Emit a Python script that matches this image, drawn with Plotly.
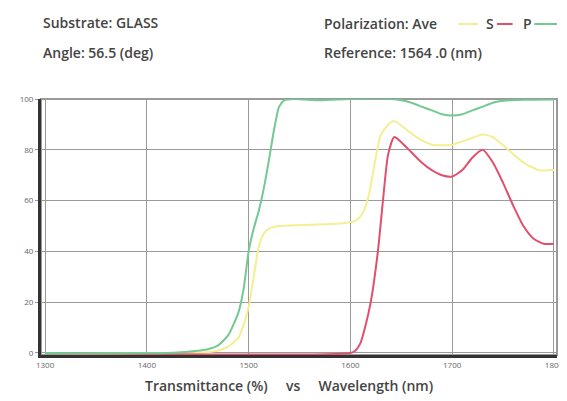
import plotly.graph_objects as go

# Transmittance curves (wavelength in nm, T in %)
wl_p = [1300, 1420, 1440, 1460, 1470, 1480, 1490, 1495, 1500, 1505, 1510, 1515, 1520,
        1525, 1530, 1535, 1545, 1570, 1600, 1640, 1650, 1660, 1670, 1680, 1690, 1700,
        1710, 1720, 1730, 1740, 1750, 1770, 1800]
t_p = [0, 0, 0.5, 1.5, 3, 7, 16, 25, 40, 49, 56, 65, 76,
       88, 97, 99.5, 100, 99.5, 100, 100, 99.5, 98.5, 97, 95.5, 94, 93.5,
       94, 95.5, 97, 98.5, 99.3, 99.7, 99.8]

wl_s = [1300, 1600, 1605, 1610, 1615, 1620, 1627, 1632, 1637, 1643, 1650, 1660, 1670,
        1680, 1690, 1700, 1710, 1720, 1730, 1740, 1750, 1760, 1770, 1780, 1790, 1800]
t_s = [0, 0, 1, 4, 11, 20, 40, 60, 78, 85, 83, 79, 75,
       72, 70, 69.5, 72, 77, 80, 75, 67, 58, 50, 45, 43, 43]

wl_ave = [1300, 1450, 1470, 1480, 1490, 1495, 1500, 1505, 1510, 1515, 1520, 1530, 1560,
          1590, 1605, 1612, 1618, 1624, 1630, 1640, 1645, 1655, 1665, 1680, 1700, 1715,
          1730, 1740, 1755, 1770, 1785, 1800]
t_ave = [0, 0, 1, 2.5, 6, 11, 18, 30, 42, 47, 49, 50, 50.5,
         51, 52, 55, 62, 75, 86, 91, 91, 88, 85, 82, 82, 84,
         86, 85, 80, 75, 72, 72]

x_ticks = [1300, 1400, 1500, 1600, 1700, 1800]
y_ticks = [0, 20, 40, 60, 80, 100]

COLORS = {"ave": "#f3ef92", "s": "#e0506e", "p": "#74c892", "text": "#444444"}
FONT = "Open Sans"

# plot area in page pixels (page body adds an 8px offset)
L, R, T, B = 40, 563, 99, 355


def px(x):
    return (x - L) / (R - L)


def py(y):
    return (B - y) / (B - T)


fig = go.Figure()
fig.add_scatter(x=wl_ave, y=t_ave, mode="lines", name="Ave",
                line=dict(color=COLORS["ave"], width=2, shape="spline", smoothing=0.6))
fig.add_scatter(x=wl_s, y=t_s, mode="lines", name="S",
                line=dict(color=COLORS["s"], width=2, shape="spline", smoothing=0.6))
fig.add_scatter(x=wl_p, y=t_p, mode="lines", name="P",
                line=dict(color=COLORS["p"], width=2, shape="spline", smoothing=0.6))

# light frame on top/right, dark axis lines drawn by the axes
fig.add_shape(type="rect", xref="paper", yref="paper", x0=0, x1=1, y0=0, y1=1,
              line=dict(color="#9a9a9a", width=2), layer="below")

head = dict(size=14, color=COLORS["text"], family=FONT, weight=600)
notes = [
    ("Substrate: GLASS", 40, 22),
    ("Angle: 56.5 (deg)", 40, 52),
    ("Polarization: Ave", 325, 23),
    ("Reference: 1564 .0 (nm)", 325, 52),
    ("S", 489, 23),
    ("P", 527, 23),
]
for txt, x, y in notes:
    fig.add_annotation(text=txt, x=px(x), y=py(y), xref="paper", yref="paper",
                       xanchor="left", yanchor="middle", showarrow=False, font=head)

# legend swatches next to the labels
for col, x0, x1 in [(COLORS["ave"], 463, 483), (COLORS["s"], 502, 518), (COLORS["p"], 540, 563)]:
    fig.add_shape(type="line", xref="paper", yref="paper",
                  x0=px(x0), x1=px(x1), y0=py(24), y1=py(24),
                  line=dict(color=col, width=2))

fig.add_annotation(text="Transmittance (%)&nbsp;&nbsp;&nbsp;&nbsp;&nbsp;vs&nbsp;&nbsp;&nbsp;&nbsp;&nbsp;Wavelength (nm)",
                   x=px(291), y=py(385), xref="paper", yref="paper", yanchor="middle",
                   showarrow=False, font=dict(size=14, color=COLORS["text"], family=FONT, weight=600))

fig.update_layout(
    width=567, height=401,
    margin=dict(l=L - 8, r=567 - (R - 8), t=T - 8, b=401 - (B - 8)),
    paper_bgcolor="white", plot_bgcolor="white",
    showlegend=False,
    font=dict(family=FONT, color="#666"),
)
fig.update_xaxes(range=[1296, 1803], tickvals=x_ticks, showgrid=True, gridcolor="#9a9a9a",
                 gridwidth=1, showline=True, linecolor="#333", linewidth=3,
                 ticks="", tickfont=dict(size=8, color="#666"), zeroline=False)
fig.update_yaxes(range=[-0.8, 100], tickvals=y_ticks, showgrid=True, gridcolor="#9a9a9a",
                 gridwidth=1, showline=True, linecolor="#333", linewidth=3,
                 ticks="outside", ticklen=3, tickcolor="#999",
                 tickfont=dict(size=8, color="#666"), zeroline=False)

fig.write_html("out.html")
